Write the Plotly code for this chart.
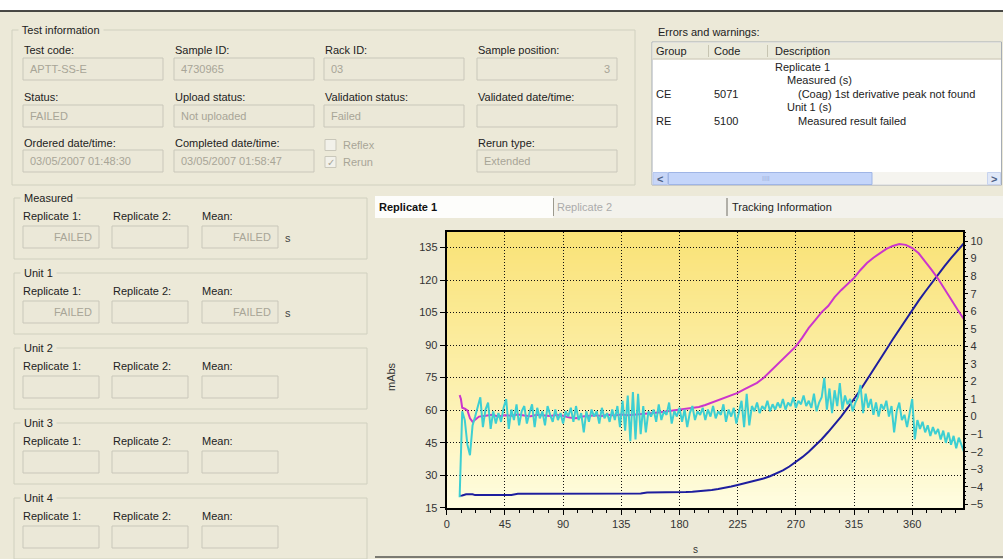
import plotly.graph_objects as go

# ---------------- curve data ----------------
# Absorbance curve (mAbs, left axis)
abs_time = [10, 12, 15, 20, 22, 30, 40, 50, 55, 70, 90, 110, 130, 150, 155, 165, 175, 180] + list(range(185, 401, 5))
abs_mabs = [20.5, 20.6, 21.2, 21.2, 20.8, 20.8, 20.8, 20.9, 21.4, 21.4, 21.4, 21.5, 21.5, 21.6, 22.0, 22.0, 22.1, 22.1,
            22.2, 22.4, 22.6, 22.9, 23.2, 23.6, 24.1, 24.8, 25.5, 26.2, 26.9, 27.6, 28.5, 29.5, 30.7, 32.2, 34.0, 36.0,
            38.3, 40.8, 43.6, 46.6, 49.9, 53.3, 57.0, 61.0, 65.0, 69.4, 74.0, 78.5, 83.2, 88.0, 92.7, 97.3, 101.8,
            106.2, 110.5, 114.6, 118.7, 122.6, 126.4, 130.1, 133.6, 137.0]

# First derivative (right axis)
deriv1_time = [10, 11, 12, 14, 16, 18, 20, 22, 25] + list(range(30, 401, 5))
deriv1 = [1.22, 1.0, 0.5, 0.45, 0.35, -0.1, -0.3, -0.2, 0.0,
          0.05, 0.1, 0.0, 0.08, 0.05, 0.12, 0.06, 0.02, 0.1, 0.07, 0.03, 0.09, 0.05, -0.05, -0.1, 0.0, 0.05,
          0.08, 0.04, 0.1, 0.06, 0.12, 0.08, 0.1, 0.14,
          0.15, 0.2, 0.25, 0.3, 0.35, 0.38, 0.42, 0.48, 0.55, 0.66,
          0.8, 0.97, 1.1, 1.22, 1.35, 1.55, 1.75, 1.92, 2.2, 2.55,
          2.93, 3.3, 3.65, 4.0, 4.5, 5.05, 5.5, 5.95, 6.3, 6.8,
          7.2, 7.55, 7.9, 8.35, 8.75, 9.05, 9.3, 9.55, 9.72, 9.83,
          9.78, 9.6, 9.3, 8.85, 8.35, 7.85, 7.25, 6.65, 6.1, 5.55]

# Second derivative (right axis), sampled every 2 s
deriv2_time = list(range(10, 401, 2))
deriv2 = [-4.6, 0.3, -0.2, -1.6, -2.2, -0.5, 0.0, 0.6, 1.1, -0.6,
          0.4, 0.8, -0.7, 0.3, -0.4, 0.2, -0.3, 0.5, 1.0, -0.7,
          0.4, -0.2, 0.7, -0.5, 0.3, 0.6, -0.4, 0.2, 0.7, -0.6,
          0.5, -0.1, 0.3, -0.5, 0.6, 0.1, -0.3, 0.4, -0.2, 0.2,
          -0.4, 0.3, 0.0, 0.5, -0.3, 0.6, -0.2, 0.2, -0.9, 0.3,
          -0.3, 0.4, 0.0, 0.3, -0.4, 0.5, -0.1, 0.2, -0.3, 0.4,
          -0.2, 0.6, -0.6, 0.9, -0.8, 1.2, -1.4, 1.4, -1.3, 1.3,
          -1.0, 0.6, -0.9, 0.3, 0.0, 0.4, -0.3, 0.7, -0.2, 0.3,
          0.1, 0.8, -0.4, 0.3, 0.0, 0.5, -0.3, 0.4, -0.6, 0.2,
          0.6, -0.2, 0.3, 0.1, 0.5, -0.2, 0.4, 0.0, 0.6, -0.1,
          0.3, 0.1, 0.7, -0.3, 0.4, 0.0, 0.5, -0.4, 0.2, 0.9,
          -0.6, 1.3, -0.5, 0.6, 0.3, 0.8, 0.2, 0.6, 0.4, 0.9,
          0.3, 0.7, 0.4, 0.8, 0.5, 1.0, 0.4, 0.8, 0.6, 1.1,
          0.5, 0.9, 0.7, 1.2, 0.6, 0.9, 0.5, 1.3, 0.3, 0.8,
          1.1, 2.2, 0.4, 1.6, 0.2, 1.5, 0.6, 1.9, 0.4, 1.2,
          0.7, 1.0, 0.3, 0.8, 1.1, 1.8, 0.2, 1.3, 0.5, 1.0,
          0.1, 0.8, 0.0, 0.7, 0.4, 0.9, 0.0, 0.6, -0.9, 0.3,
          0.8, -0.2, 0.1, -0.6, 0.2, 1.0, -1.3, -0.2, -0.7, -0.3,
          -0.9, -0.5, -1.1, -0.6, -1.0, -0.7, -1.3, -0.8, -1.5, -0.9,
          -1.6, -1.1, -1.8, -1.2, -1.6, -2.0]

x_ticks = [0, 45, 90, 135, 180, 225, 270, 315, 360]
left_ticks = [15, 30, 45, 60, 75, 90, 105, 120, 135]
right_ticks = [-5, -4, -3, -2, -1, 0, 1, 2, 3, 4, 5, 6, 7, 8, 9, 10]

# ---------------- form texts ----------------
info_labels = [["Test code:", "Sample ID:", "Rack ID:", "Sample position:"],
               ["Status:", "Upload status:", "Validation status:", "Validated date/time:"],
               ["Ordered date/time:", "Completed date/time:", None, "Rerun type:"]]
info_values = [["APTT-SS-E", "4730965", "03", "3"],
               ["FAILED", "Not uploaded", "Failed", ""],
               ["03/05/2007 01:48:30", "03/05/2007 01:58:47", None, "Extended"]]
check_items = [("Reflex", False), ("Rerun", True)]

result_groups = ["Measured", "Unit 1", "Unit 2", "Unit 3", "Unit 4"]
result_labels = ["Replicate 1:", "Replicate 2:", "Mean:"]
result_values = [["FAILED", "", "FAILED"], ["FAILED", "", "FAILED"], ["", "", ""], ["", "", ""], ["", "", ""]]
result_units = ["s", "s", "", "", ""]

err_headers = ["Group", "Code", "Description"]
err_rows = [("", "", "Replicate 1", 0), ("", "", "Measured (s)", 1),
            ("CE", "5071", "(Coag) 1st derivative peak not found", 2),
            ("", "", "Unit 1 (s)", 1), ("RE", "5100", "Measured result failed", 2)]

tab_names = ["Replicate 1", "Replicate 2", "Tracking Information"]

# ---------------- page geometry helpers ----------------
W, H = 1003, 559
BG = "#ECE9D8"
FONT = "Liberation Sans, Arial, sans-serif"
shapes = []
annots = []


def fx(x):
    return x / W


def fy(y):
    return 1 - y / H


def rect(x0, y0, x1, y1, fill=None, line="#C5C2B2", lw=1):
    shapes.append(dict(type="rect", xref="paper", yref="paper",
                       x0=fx(x0), x1=fx(x1), y0=fy(y1), y1=fy(y0),
                       fillcolor=fill if fill else "rgba(0,0,0,0)",
                       line=dict(color=line, width=lw), layer="below"))


def hline(x0, x1, y, color, lw=1):
    shapes.append(dict(type="line", xref="paper", yref="paper", x0=fx(x0), x1=fx(x1),
                       y0=fy(y), y1=fy(y), line=dict(color=color, width=lw), layer="below"))


def vline(x, y0, y1, color, lw=1):
    shapes.append(dict(type="line", xref="paper", yref="paper", x0=fx(x), x1=fx(x),
                       y0=fy(y0), y1=fy(y1), line=dict(color=color, width=lw), layer="below"))


def text(x, y, s, color="#222222", size=11, anchor="left", bold=False, bg=None, angle=0):
    if bold:
        s = "<b>" + s + "</b>"
    a = dict(xref="paper", yref="paper", x=fx(x), y=fy(y), text=s, showarrow=False,
             xanchor=anchor, yanchor="middle", font=dict(family=FONT, size=size, color=color),
             borderpad=0, textangle=angle)
    if bg:
        a["bgcolor"] = bg
    annots.append(a)


def group_box(x0, y0, x1, y1, title):
    rect(x0, y0, x1, y1, line="#D0D0BF")
    text(x0 + 6, y0, " " + title + " ", color="#222222", bg=BG)


def field(x0, y0, w, h, value, align="left"):
    rect(x0, y0, x0 + w, y0 + h, fill="#EBE8D8", line="#C9C7BA")
    if value:
        if align == "right":
            text(x0 + w - 6, y0 + h / 2, value, color="#A8A597", anchor="right")
        else:
            text(x0 + 6, y0 + h / 2, value, color="#A8A597")


# top strip
rect(0, 0, W, 10.5, fill="#FFFFFF", line="#FFFFFF", lw=0)
hline(0, W, 11, "#111111", 1.5)

# test information group
group_box(12, 30, 635, 185, "Test information")
col_x = [23, 174, 324, 477]
lab_y = [50, 97, 143]
box_y = [58, 105, 150]
for r in range(3):
    for c in range(4):
        lab = info_labels[r][c]
        if lab is None:
            continue
        text(col_x[c], lab_y[r], lab)
        field(col_x[c], box_y[r], 140, 22, info_values[r][c], align="right" if lab == "Sample position:" else "left")
for i, (name, checked) in enumerate(check_items):
    cy = 145 + 17 * i
    rect(325, cy - 5.5, 336, cy + 5.5, fill="#F2F1EA", line="#C9C7BA")
    if checked:
        text(330.5, cy, "✓", color="#A8A597", anchor="center", size=10)
    text(342, cy, name, color="#A8A597")

# errors & warnings list
text(657, 32, "Errors and warnings:")
rect(652, 42, 1001.5, 185, fill="#FFFFFF", line="#A5ACB5")
rect(652.5, 42.5, 1001, 59, fill="#EBEADB", line="#EBEADB", lw=0)
hline(652.5, 1001, 59, "#D6D2C2", 1.5)
for sx in (708.5, 767.5):
    vline(sx, 45, 57, "#C7C5B2")
hx = [655, 713, 774]
for h_, x_ in zip(err_headers, hx):
    text(x_, 51, h_)
row_y = [66.5, 80, 94, 107, 121]
indent = [774, 786, 797]
for (g, code, desc, lvl), ry in zip(err_rows, row_y):
    if g:
        text(655, ry, g)
        text(713, ry, code)
    text(indent[lvl], ry, desc)
# horizontal scroll bar
rect(652.5, 172, 1001, 184.5, fill="#F5F4EF", line="#F5F4EF", lw=0)
rect(653, 172.5, 667.5, 184.5, fill="#C8D6F7", line="#B4C6EE")
rect(668.5, 172.5, 872, 184.5, fill="#C4D5FA", line="#9FB5E6")
rect(987.5, 172.5, 1000.5, 184.5, fill="#E0E8F8", line="#C7D3EE")
text(660, 178.5, "<", color="#4D6185", anchor="center", size=11, bold=True)
text(994, 178.5, ">", color="#4D6185", anchor="center", size=11, bold=True)
text(766, 178.5, "IIII", color="#9DB0DA", anchor="center", size=7)

# result groups
for i, name in enumerate(result_groups):
    top = 198 + 75 * i
    group_box(14, top, 367, top + 61, name)
    lx = [22, 112, 201]
    bx = [23, 112, 202]
    for j in range(3):
        text(lx[j], top + 18, result_labels[j])
        field(bx[j], top + 28, 76, 22, result_values[i][j], align="right")
    if result_units[i]:
        text(284, top + 40, result_units[i], color="#444444")

# chart panel: tabs and frame
rect(375, 196, W, 218, fill="#F3F2EC", line="#F3F2EC", lw=0)
rect(375, 196, 553, 218, fill="#FDFDFB", line="#FDFDFB", lw=0)
vline(553.5, 198, 216, "#9C9A8E")
vline(727, 198, 216, "#6E6C64")
text(378, 207, tab_names[0], color="#111111", bold=True)
text(556, 207, tab_names[1], color="#ABABAB")
text(731, 207, tab_names[2], color="#222222")
hline(375, W, 557, "#7B7A72", 2)

# ---------------- chart ----------------
X0, X1 = 446.7, 963.3
Y0, Y1 = 231.7, 507.7

# vertical yellow gradient inside the plot area
N = 70
top_rgb = (249, 226, 118)
bot_rgb = (255, 253, 226)
for k in range(N):
    t = (k + 0.5) / N
    c = [round(b + (a - b) * t ** 0.9) for a, b in zip(top_rgb, bot_rgb)]
    shapes.append(dict(type="rect", xref="x domain", yref="y domain", x0=0, x1=1,
                       y0=k / N, y1=min(1, (k + 1) / N + 0.004),
                       fillcolor="rgb(%d,%d,%d)" % tuple(c), line=dict(width=0), layer="below"))

fig = go.Figure()
fig.add_trace(go.Scatter(x=deriv1_time, y=deriv1, mode="lines", yaxis="y2",
                         line=dict(color="#CC35CC", width=2), name="1st derivative"))
fig.add_trace(go.Scatter(x=deriv2_time, y=deriv2, mode="lines", yaxis="y2",
                         line=dict(color="#3DCFD2", width=2), name="2nd derivative"))
fig.add_trace(go.Scatter(x=abs_time, y=abs_mabs, mode="lines", yaxis="y",
                         line=dict(color="#1E1E9E", width=2), name="mAbs"))

text(391, 377, "mAbs", color="#333333", anchor="center", angle=-90)
text(695, 549, "s", color="#333333", anchor="center", size=10)

tickfont = dict(family=FONT, size=11, color="#333333")
grid_dash = "1px,2px"
fig.update_layout(
    width=W, height=H, autosize=False, template="none",
    margin=dict(l=0, r=0, t=0, b=0),
    paper_bgcolor=BG, plot_bgcolor="#FFFBD8",
    showlegend=False,
    shapes=shapes, annotations=annots,
    xaxis=dict(domain=[fx(X0), fx(X1)], range=[0, 399.5], tickvals=x_ticks,
               ticks="outside", ticklen=5, tickcolor="#000000", tickwidth=1,
               showline=True, linecolor="#000000", linewidth=2, mirror=True,
               showgrid=True, gridcolor="#111111", gridwidth=1, griddash=grid_dash,
               zeroline=False, tickfont=tickfont, automargin=False,
               minor=dict(dtick=11.25, tick0=0, ticks="outside", ticklen=3,
                          tickcolor="#000000", showgrid=False)),
    yaxis=dict(domain=[fy(Y1), fy(Y0)], range=[15, 142.3], tickvals=left_ticks,
               ticks="outside", ticklen=5, tickcolor="#000000",
               showline=True, linecolor="#000000", linewidth=2, mirror=True,
               showgrid=True, gridcolor="#111111", gridwidth=1, griddash=grid_dash,
               zeroline=False, tickfont=tickfont, automargin=False),
    yaxis2=dict(overlaying="y", side="right", anchor="x", range=[-5.19, 10.53], tickvals=right_ticks,
                ticks="outside", ticklen=4, tickcolor="#000000",
                showgrid=False, zeroline=False, showline=False,
                tickfont=tickfont, automargin=False,
                minor=dict(dtick=0.25, ticks="outside", ticklen=2, tickcolor="#000000", showgrid=False)),
)

fig.write_html("out.html")
